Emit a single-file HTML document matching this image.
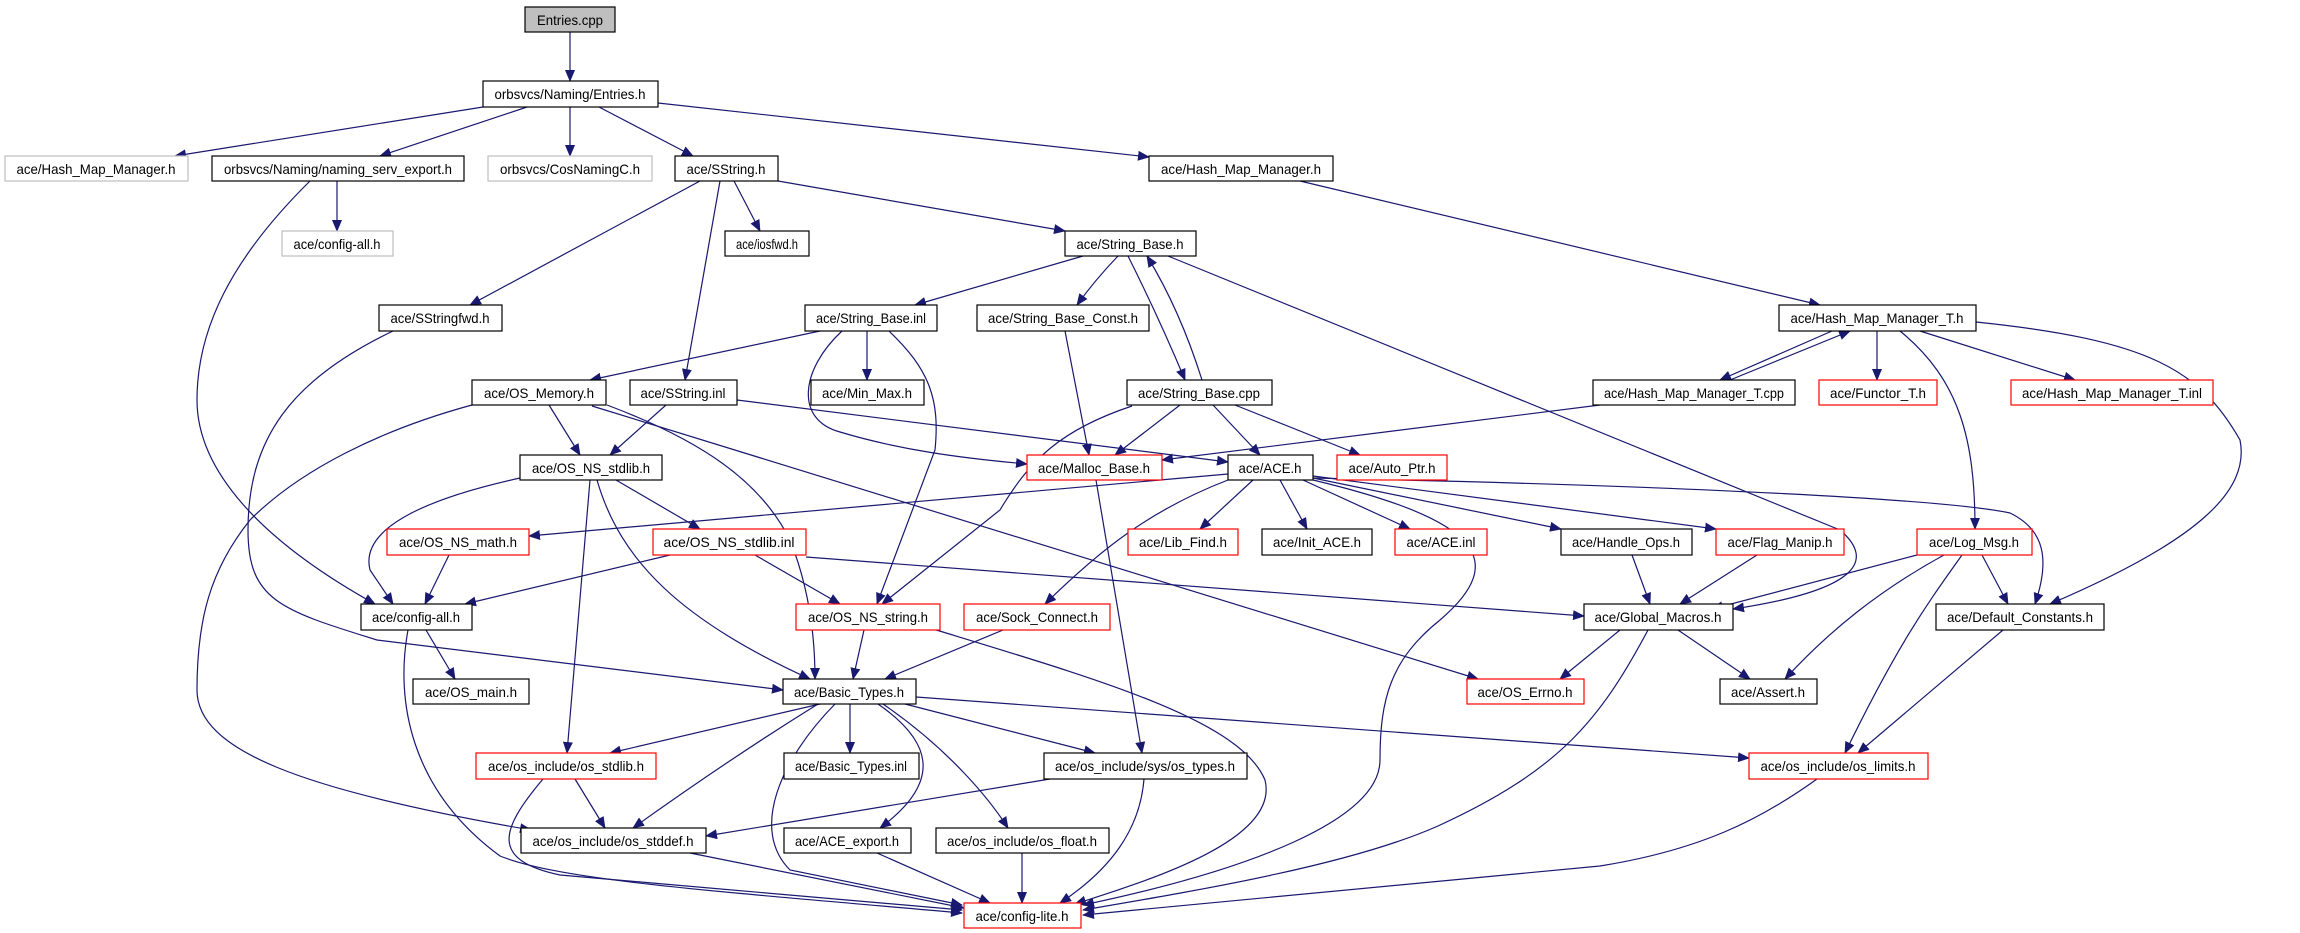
<!DOCTYPE html>
<html><head><meta charset="utf-8"><style>
html,body{margin:0;padding:0;background:#fff;}
svg{display:block;}
text{font-family:"Liberation Sans",sans-serif;font-size:14px;fill:#000;text-anchor:middle;}
.e{fill:none;stroke:#191970;stroke-width:1.2;marker-end:url(#a);}
.n{fill:#fff;stroke:#000;stroke-width:1.2;}
.g{fill:#fff;stroke:#bfbfbf;stroke-width:1.2;}
.r{fill:#fff;stroke:#ff0000;stroke-width:1.2;}
</style></head><body>
<svg width="2300" height="933" viewBox="0 0 2300 933" xmlns="http://www.w3.org/2000/svg">
<defs><marker id="a" markerWidth="12" markerHeight="10" refX="11" refY="5" orient="auto" markerUnits="userSpaceOnUse"><path d="M0,0 L12,5 L0,10 z" fill="#191970"/></marker></defs>
<g>
<path class="e" d="M570,32 L570,81"/>
<path class="e" d="M483,107 L175,156"/>
<path class="e" d="M527,107 L380,156"/>
<path class="e" d="M570,107 L570,156"/>
<path class="e" d="M599,107 L693,156"/>
<path class="e" d="M658,103 L1149,157"/>
<path class="e" d="M337,181 L337,231"/>
<path class="e" d="M310,181 C230,260 197,330 197,400 C197,470 260,540 375,604"/>
<path class="e" d="M700,181 L470,305"/>
<path class="e" d="M720,181 L685,380"/>
<path class="e" d="M734,181 L760,231"/>
<path class="e" d="M778,181 L1065,231"/>
<path class="e" d="M1300,181 L1820,305"/>
<path class="e" d="M1083,256 L915,305"/>
<path class="e" d="M1118,256 Q1095,280 1077,305"/>
<path class="e" d="M1128,256 Q1160,320 1185,380"/>
<path class="e" d="M1202,380 Q1180,310 1147,256"/>
<path class="e" d="M1168,256 L1840,530 C1875,560 1860,590 1733,609"/>
<path class="e" d="M393,331 C290,380 248,440 248,530 C248,600 280,610 377,640 L783,690"/>
<path class="e" d="M820,331 L590,380"/>
<path class="e" d="M867,331 L867,380"/>
<path class="e" d="M842,331 C800,370 795,420 840,432 C900,450 960,458 1027,464"/>
<path class="e" d="M889,331 C930,370 940,400 935,450 L877,604"/>
<path class="e" d="M1065,331 L1089,455"/>
<path class="e" d="M1180,405 L1115,455"/>
<path class="e" d="M1213,405 L1260,455"/>
<path class="e" d="M1235,405 L1360,455"/>
<path class="e" d="M1132,406 C1060,430 1030,460 1000,510 L882,604"/>
<path class="e" d="M1832,331 L1720,380"/>
<path class="e" d="M1730,380 L1850,331"/>
<path class="e" d="M1877,331 L1877,380"/>
<path class="e" d="M1920,331 L2075,380"/>
<path class="e" d="M1900,331 C1960,380 1975,440 1975,529"/>
<path class="e" d="M1976,322 C2150,340 2200,370 2240,440 C2250,490 2200,540 2050,604"/>
<path class="e" d="M1600,405 L1162,460"/>
<path class="e" d="M549,405 L580,455"/>
<path class="e" d="M666,405 L610,455"/>
<path class="e" d="M737,400 L1228,462"/>
<path class="e" d="M472,405 C380,430 300,470 250,520 C210,570 197,620 197,690 C197,750 300,790 531,830"/>
<path class="e" d="M607,405 C700,440 760,480 790,540 C810,590 815,640 815,679"/>
<path class="e" d="M592,406 L1478,679"/>
<path class="e" d="M520,478 C420,500 360,530 370,570 L393,604"/>
<path class="e" d="M616,480 L700,529"/>
<path class="e" d="M590,480 L567,753"/>
<path class="e" d="M597,480 C620,560 680,620 810,679"/>
<path class="e" d="M449,555 L425,604"/>
<path class="e" d="M670,555 L465,604"/>
<path class="e" d="M755,555 L840,604"/>
<path class="e" d="M806,557 L1584,616"/>
<path class="e" d="M1228,474 L529,536"/>
<path class="e" d="M1253,480 L1200,529"/>
<path class="e" d="M1280,480 L1307,529"/>
<path class="e" d="M1303,480 L1410,529"/>
<path class="e" d="M1313,478 L1561,529"/>
<path class="e" d="M1313,476 L1716,529"/>
<path class="e" d="M1313,478 C1700,486 1950,500 2010,513 C2045,530 2050,560 2035,604"/>
<path class="e" d="M1313,480 C1480,520 1510,560 1440,620 C1390,660 1380,700 1380,760 C1380,820 1250,870 1083,905"/>
<path class="e" d="M1228,480 C1150,510 1100,550 1045,604"/>
<path class="e" d="M1632,555 L1650,604"/>
<path class="e" d="M1757,555 L1680,604"/>
<path class="e" d="M1917,555 L1712,609"/>
<path class="e" d="M1944,555 C1880,590 1830,630 1785,679"/>
<path class="e" d="M1962,555 C1930,600 1900,640 1845,753"/>
<path class="e" d="M1982,555 L2008,604"/>
<path class="e" d="M1620,630 L1560,679"/>
<path class="e" d="M1678,630 L1750,679"/>
<path class="e" d="M1648,630 C1600,720 1560,770 1438,826 C1350,865 1200,890 1083,910"/>
<path class="e" d="M2003,630 L1858,753"/>
<path class="e" d="M1817,779 C1760,820 1700,850 1600,866 L1083,915"/>
<path class="e" d="M1144,779 C1140,830 1110,870 1060,903"/>
<path class="e" d="M1050,779 L706,836"/>
<path class="e" d="M864,630 L853,679"/>
<path class="e" d="M933,629 C1100,680 1240,720 1265,780 C1280,840 1150,880 1075,904"/>
<path class="e" d="M1003,630 L885,679"/>
<path class="e" d="M850,704 L850,753"/>
<path class="e" d="M905,704 L1095,753"/>
<path class="e" d="M916,697 L1749,758"/>
<path class="e" d="M820,704 L610,753"/>
<path class="e" d="M818,704 C760,740 700,780 633,828"/>
<path class="e" d="M878,704 C930,740 945,780 880,828"/>
<path class="e" d="M883,704 C950,750 990,800 1008,828"/>
<path class="e" d="M835,704 C780,760 750,830 790,870 L962,905"/>
<path class="e" d="M575,779 L605,828"/>
<path class="e" d="M543,779 C500,830 490,860 560,875 L962,910"/>
<path class="e" d="M426,630 L455,679"/>
<path class="e" d="M408,630 C395,700 410,790 500,856 C560,880 700,890 962,913"/>
<path class="e" d="M690,853 L964,908"/>
<path class="e" d="M877,853 L990,903"/>
<path class="e" d="M1022,853 L1022,903"/>
<path class="e" d="M1096,480 C1110,560 1125,650 1142,753"/>
</g>
<g>
<rect x="525" y="7" width="90" height="25" fill="#bfbfbf" stroke="#000" stroke-width="1.2"/><text x="570" y="25" textLength="66" lengthAdjust="spacingAndGlyphs">Entries.cpp</text>
<rect class="n" x="483" y="81" width="175" height="26"/><text x="570" y="99" textLength="151" lengthAdjust="spacingAndGlyphs">orbsvcs/Naming/Entries.h</text>
<rect class="g" x="5" y="156" width="183" height="25"/><text x="96" y="174" textLength="159" lengthAdjust="spacingAndGlyphs">ace/Hash_Map_Manager.h</text>
<rect class="n" x="212" y="156" width="252" height="25"/><text x="338" y="174" textLength="228" lengthAdjust="spacingAndGlyphs">orbsvcs/Naming/naming_serv_export.h</text>
<rect class="g" x="488" y="156" width="164" height="25"/><text x="570" y="174" textLength="140" lengthAdjust="spacingAndGlyphs">orbsvcs/CosNamingC.h</text>
<rect class="n" x="675" y="156" width="103" height="25"/><text x="726" y="174" textLength="79" lengthAdjust="spacingAndGlyphs">ace/SString.h</text>
<rect class="n" x="1149" y="156" width="184" height="25"/><text x="1241" y="174" textLength="160" lengthAdjust="spacingAndGlyphs">ace/Hash_Map_Manager.h</text>
<rect class="g" x="282" y="231" width="111" height="25"/><text x="337" y="249" textLength="87" lengthAdjust="spacingAndGlyphs">ace/config-all.h</text>
<rect class="n" x="725" y="231" width="84" height="25"/><text x="767" y="249" textLength="62" lengthAdjust="spacingAndGlyphs">ace/iosfwd.h</text>
<rect class="n" x="1065" y="231" width="131" height="25"/><text x="1130" y="249" textLength="107" lengthAdjust="spacingAndGlyphs">ace/String_Base.h</text>
<rect class="n" x="379" y="305" width="123" height="26"/><text x="440" y="323" textLength="99" lengthAdjust="spacingAndGlyphs">ace/SStringfwd.h</text>
<rect class="n" x="805" y="305" width="132" height="26"/><text x="871" y="323" textLength="110" lengthAdjust="spacingAndGlyphs">ace/String_Base.inl</text>
<rect class="n" x="977" y="305" width="172" height="26"/><text x="1063" y="323" textLength="150" lengthAdjust="spacingAndGlyphs">ace/String_Base_Const.h</text>
<rect class="n" x="1779" y="305" width="197" height="26"/><text x="1877" y="323" textLength="173" lengthAdjust="spacingAndGlyphs">ace/Hash_Map_Manager_T.h</text>
<rect class="n" x="472" y="380" width="134" height="25"/><text x="539" y="398" textLength="110" lengthAdjust="spacingAndGlyphs">ace/OS_Memory.h</text>
<rect class="n" x="630" y="380" width="107" height="25"/><text x="683" y="398" textLength="85" lengthAdjust="spacingAndGlyphs">ace/SString.inl</text>
<rect class="n" x="811" y="380" width="113" height="25"/><text x="867" y="398" textLength="90" lengthAdjust="spacingAndGlyphs">ace/Min_Max.h</text>
<rect class="n" x="1127" y="380" width="145" height="25"/><text x="1199" y="398" textLength="122" lengthAdjust="spacingAndGlyphs">ace/String_Base.cpp</text>
<rect class="n" x="1593" y="380" width="202" height="25"/><text x="1694" y="398" textLength="180" lengthAdjust="spacingAndGlyphs">ace/Hash_Map_Manager_T.cpp</text>
<rect class="r" x="1819" y="380" width="118" height="25"/><text x="1878" y="398" textLength="96" lengthAdjust="spacingAndGlyphs">ace/Functor_T.h</text>
<rect class="r" x="2011" y="380" width="202" height="25"/><text x="2112" y="398" textLength="180" lengthAdjust="spacingAndGlyphs">ace/Hash_Map_Manager_T.inl</text>
<rect class="n" x="520" y="455" width="142" height="25"/><text x="591" y="473" textLength="118" lengthAdjust="spacingAndGlyphs">ace/OS_NS_stdlib.h</text>
<rect class="r" x="1027" y="455" width="135" height="25"/><text x="1094" y="473" textLength="112" lengthAdjust="spacingAndGlyphs">ace/Malloc_Base.h</text>
<rect class="n" x="1228" y="455" width="85" height="25"/><text x="1270" y="473" textLength="63" lengthAdjust="spacingAndGlyphs">ace/ACE.h</text>
<rect class="r" x="1337" y="455" width="110" height="25"/><text x="1392" y="473" textLength="87" lengthAdjust="spacingAndGlyphs">ace/Auto_Ptr.h</text>
<rect class="r" x="387" y="529" width="142" height="26"/><text x="458" y="547" textLength="118" lengthAdjust="spacingAndGlyphs">ace/OS_NS_math.h</text>
<rect class="r" x="653" y="529" width="153" height="26"/><text x="729" y="547" textLength="131" lengthAdjust="spacingAndGlyphs">ace/OS_NS_stdlib.inl</text>
<rect class="r" x="1128" y="529" width="110" height="26"/><text x="1183" y="547" textLength="88" lengthAdjust="spacingAndGlyphs">ace/Lib_Find.h</text>
<rect class="n" x="1262" y="529" width="110" height="26"/><text x="1317" y="547" textLength="88" lengthAdjust="spacingAndGlyphs">ace/Init_ACE.h</text>
<rect class="r" x="1395" y="529" width="92" height="26"/><text x="1441" y="547" textLength="69" lengthAdjust="spacingAndGlyphs">ace/ACE.inl</text>
<rect class="n" x="1561" y="529" width="131" height="26"/><text x="1626" y="547" textLength="108" lengthAdjust="spacingAndGlyphs">ace/Handle_Ops.h</text>
<rect class="r" x="1716" y="529" width="128" height="26"/><text x="1780" y="547" textLength="105" lengthAdjust="spacingAndGlyphs">ace/Flag_Manip.h</text>
<rect class="r" x="1917" y="529" width="115" height="26"/><text x="1974" y="547" textLength="90" lengthAdjust="spacingAndGlyphs">ace/Log_Msg.h</text>
<rect class="n" x="361" y="604" width="111" height="26"/><text x="416" y="622" textLength="88" lengthAdjust="spacingAndGlyphs">ace/config-all.h</text>
<rect class="r" x="796" y="604" width="144" height="26"/><text x="868" y="622" textLength="120" lengthAdjust="spacingAndGlyphs">ace/OS_NS_string.h</text>
<rect class="r" x="964" y="604" width="146" height="26"/><text x="1037" y="622" textLength="122" lengthAdjust="spacingAndGlyphs">ace/Sock_Connect.h</text>
<rect class="n" x="1584" y="604" width="149" height="26"/><text x="1658" y="622" textLength="127" lengthAdjust="spacingAndGlyphs">ace/Global_Macros.h</text>
<rect class="n" x="1936" y="604" width="168" height="26"/><text x="2020" y="622" textLength="146" lengthAdjust="spacingAndGlyphs">ace/Default_Constants.h</text>
<rect class="n" x="413" y="679" width="116" height="25"/><text x="471" y="697" textLength="92" lengthAdjust="spacingAndGlyphs">ace/OS_main.h</text>
<rect class="n" x="783" y="679" width="133" height="25"/><text x="849" y="697" textLength="110" lengthAdjust="spacingAndGlyphs">ace/Basic_Types.h</text>
<rect class="r" x="1467" y="679" width="117" height="25"/><text x="1525" y="697" textLength="95" lengthAdjust="spacingAndGlyphs">ace/OS_Errno.h</text>
<rect class="n" x="1720" y="679" width="97" height="25"/><text x="1768" y="697" textLength="74" lengthAdjust="spacingAndGlyphs">ace/Assert.h</text>
<rect class="r" x="476" y="753" width="180" height="26"/><text x="566" y="771" textLength="156" lengthAdjust="spacingAndGlyphs">ace/os_include/os_stdlib.h</text>
<rect class="n" x="784" y="753" width="135" height="26"/><text x="851" y="771" textLength="112" lengthAdjust="spacingAndGlyphs">ace/Basic_Types.inl</text>
<rect class="n" x="1044" y="753" width="203" height="26"/><text x="1145" y="771" textLength="180" lengthAdjust="spacingAndGlyphs">ace/os_include/sys/os_types.h</text>
<rect class="r" x="1749" y="753" width="179" height="26"/><text x="1838" y="771" textLength="155" lengthAdjust="spacingAndGlyphs">ace/os_include/os_limits.h</text>
<rect class="n" x="521" y="828" width="185" height="25"/><text x="613" y="846" textLength="161" lengthAdjust="spacingAndGlyphs">ace/os_include/os_stddef.h</text>
<rect class="n" x="784" y="828" width="127" height="25"/><text x="847" y="846" textLength="104" lengthAdjust="spacingAndGlyphs">ace/ACE_export.h</text>
<rect class="n" x="936" y="828" width="173" height="25"/><text x="1022" y="846" textLength="150" lengthAdjust="spacingAndGlyphs">ace/os_include/os_float.h</text>
<rect class="r" x="964" y="903" width="117" height="25"/><text x="1022" y="921" textLength="93" lengthAdjust="spacingAndGlyphs">ace/config-lite.h</text>
</g>
</svg>
</body></html>
